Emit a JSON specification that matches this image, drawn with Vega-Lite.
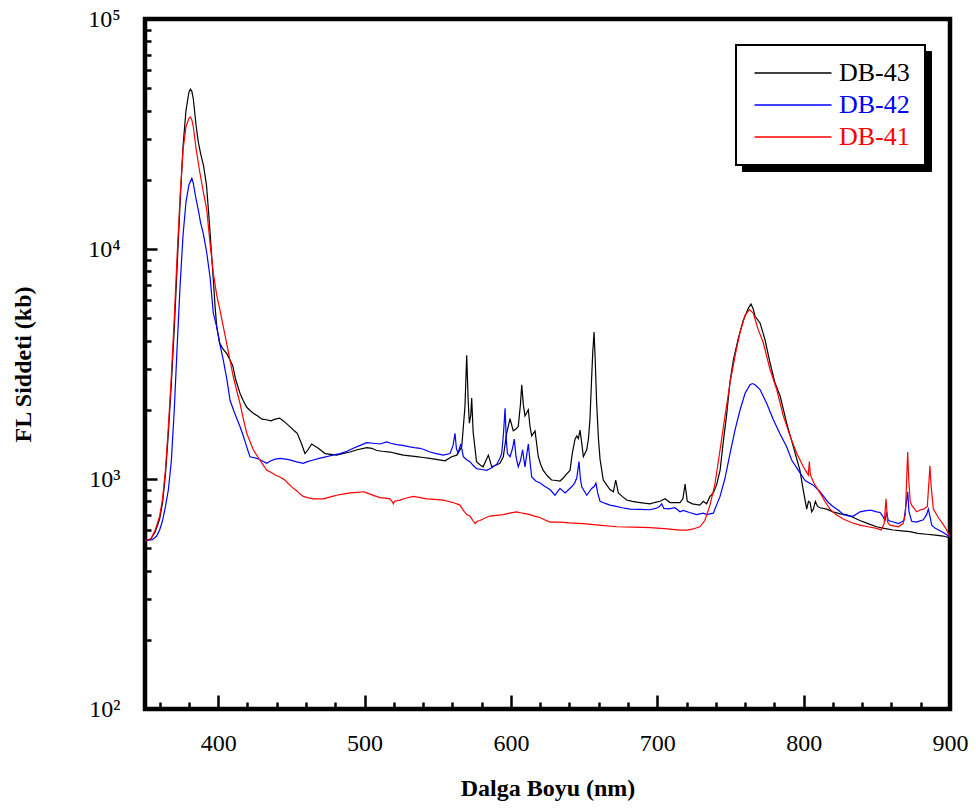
{
  "$schema": "https://vega.github.io/schema/vega-lite/v6.json",
  "width": 805,
  "height": 690,
  "autosize": "none",
  "padding": {"left": 145, "top": 19, "right": 26, "bottom": 102},
  "background": "white",
  "config": {
    "view": {"stroke": "black", "strokeWidth": 4.5},
    "font": "Liberation Serif",
    "axis": {"grid": false, "domain": false, "tickColor": "black", "tickWidth": 2.5, "labelFont": "Liberation Serif", "labelFontSize": 24, "labelColor": "black", "titleFont": "Liberation Serif", "titleFontSize": 24, "titleFontWeight": "bold", "titleColor": "black", "labelOverlap": false, "labelFlush": false}
  },
  "datasets": {
    "leg": [{"name": "DB-43"}, {"name": "DB-42"}, {"name": "DB-41"}],
    "spec": [
      {"series":"DB-43","nm":350,"value":540},{"series":"DB-43","nm":354,"value":548},{"series":"DB-43","nm":357,"value":590},{"series":"DB-43","nm":360,"value":670},{"series":"DB-43","nm":362,"value":790},{"series":"DB-43","nm":364,"value":1050},{"series":"DB-43","nm":366,"value":1600},{"series":"DB-43","nm":368,"value":2600},{"series":"DB-43","nm":370,"value":4500},{"series":"DB-43","nm":372,"value":8500},{"series":"DB-43","nm":374,"value":16000},{"series":"DB-43","nm":376,"value":28000},{"series":"DB-43","nm":378,"value":40000},{"series":"DB-43","nm":380,"value":48000},{"series":"DB-43","nm":381,"value":49500},{"series":"DB-43","nm":382,"value":48500},{"series":"DB-43","nm":383,"value":45000},{"series":"DB-43","nm":385,"value":34000},{"series":"DB-43","nm":386.5,"value":29000},{"series":"DB-43","nm":388,"value":26000},{"series":"DB-43","nm":390,"value":23000},{"series":"DB-43","nm":392,"value":19000},{"series":"DB-43","nm":394,"value":13000},{"series":"DB-43","nm":396,"value":8500},{"series":"DB-43","nm":398,"value":5500},{"series":"DB-43","nm":399,"value":4600},{"series":"DB-43","nm":401,"value":3900},{"series":"DB-43","nm":403,"value":3700},{"series":"DB-43","nm":406,"value":3500},{"series":"DB-43","nm":408,"value":3300},{"series":"DB-43","nm":410,"value":3100},{"series":"DB-43","nm":412,"value":2700},{"series":"DB-43","nm":415,"value":2350},{"series":"DB-43","nm":417,"value":2200},{"series":"DB-43","nm":419.5,"value":2050},{"series":"DB-43","nm":422,"value":1980},{"series":"DB-43","nm":424,"value":1930},{"series":"DB-43","nm":427,"value":1880},{"series":"DB-43","nm":430,"value":1820},{"series":"DB-43","nm":433,"value":1810},{"series":"DB-43","nm":436,"value":1790},{"series":"DB-43","nm":439,"value":1820},{"series":"DB-43","nm":442,"value":1840},{"series":"DB-43","nm":445,"value":1780},{"series":"DB-43","nm":449,"value":1690},{"series":"DB-43","nm":452,"value":1620},{"series":"DB-43","nm":454,"value":1580},{"series":"DB-43","nm":457,"value":1420},{"series":"DB-43","nm":459.3,"value":1290},{"series":"DB-43","nm":461,"value":1330},{"series":"DB-43","nm":463.9,"value":1420},{"series":"DB-43","nm":466,"value":1390},{"series":"DB-43","nm":468.4,"value":1360},{"series":"DB-43","nm":471,"value":1320},{"series":"DB-43","nm":473,"value":1290},{"series":"DB-43","nm":477,"value":1280},{"series":"DB-43","nm":481,"value":1270},{"series":"DB-43","nm":485,"value":1290},{"series":"DB-43","nm":490,"value":1310},{"series":"DB-43","nm":495,"value":1340},{"series":"DB-43","nm":501.5,"value":1370},{"series":"DB-43","nm":505,"value":1360},{"series":"DB-43","nm":508.3,"value":1330},{"series":"DB-43","nm":512,"value":1320},{"series":"DB-43","nm":517.4,"value":1310},{"series":"DB-43","nm":522,"value":1290},{"series":"DB-43","nm":526.5,"value":1270},{"series":"DB-43","nm":531,"value":1260},{"series":"DB-43","nm":535.6,"value":1250},{"series":"DB-43","nm":540,"value":1240},{"series":"DB-43","nm":544.7,"value":1230},{"series":"DB-43","nm":550,"value":1215},{"series":"DB-43","nm":555,"value":1200},{"series":"DB-43","nm":559.5,"value":1250},{"series":"DB-43","nm":563,"value":1270},{"series":"DB-43","nm":566.4,"value":1380},{"series":"DB-43","nm":568.6,"value":2060},{"series":"DB-43","nm":569.8,"value":3450},{"series":"DB-43","nm":570.8,"value":2200},{"series":"DB-43","nm":571.6,"value":1750},{"series":"DB-43","nm":572.6,"value":1900},{"series":"DB-43","nm":573.2,"value":2250},{"series":"DB-43","nm":574.2,"value":1600},{"series":"DB-43","nm":576.5,"value":1190},{"series":"DB-43","nm":579,"value":1150},{"series":"DB-43","nm":581,"value":1130},{"series":"DB-43","nm":584.6,"value":1270},{"series":"DB-43","nm":586.9,"value":1130},{"series":"DB-43","nm":590,"value":1150},{"series":"DB-43","nm":592.5,"value":1170},{"series":"DB-43","nm":594.8,"value":1250},{"series":"DB-43","nm":597.1,"value":1580},{"series":"DB-43","nm":599.4,"value":1830},{"series":"DB-43","nm":601.6,"value":1620},{"series":"DB-43","nm":603.5,"value":1650},{"series":"DB-43","nm":605,"value":1690},{"series":"DB-43","nm":606.5,"value":2100},{"series":"DB-43","nm":607.4,"value":2570},{"series":"DB-43","nm":608.5,"value":2100},{"series":"DB-43","nm":609.6,"value":1880},{"series":"DB-43","nm":611.9,"value":2000},{"series":"DB-43","nm":613,"value":1700},{"series":"DB-43","nm":614.2,"value":1540},{"series":"DB-43","nm":616.5,"value":1620},{"series":"DB-43","nm":618.7,"value":1250},{"series":"DB-43","nm":620.5,"value":1150},{"series":"DB-43","nm":622.1,"value":1090},{"series":"DB-43","nm":625,"value":1030},{"series":"DB-43","nm":627.8,"value":990},{"series":"DB-43","nm":631,"value":985},{"series":"DB-43","nm":633.5,"value":980},{"series":"DB-43","nm":635.8,"value":1010},{"series":"DB-43","nm":638,"value":1050},{"series":"DB-43","nm":640.4,"value":1090},{"series":"DB-43","nm":642,"value":1300},{"series":"DB-43","nm":643.8,"value":1490},{"series":"DB-43","nm":645,"value":1540},{"series":"DB-43","nm":646.1,"value":1500},{"series":"DB-43","nm":647.2,"value":1630},{"series":"DB-43","nm":648.3,"value":1450},{"series":"DB-43","nm":649.5,"value":1250},{"series":"DB-43","nm":651.8,"value":1340},{"series":"DB-43","nm":653,"value":1500},{"series":"DB-43","nm":654,"value":1810},{"series":"DB-43","nm":655,"value":2600},{"series":"DB-43","nm":655.9,"value":3540},{"series":"DB-43","nm":656.8,"value":4360},{"series":"DB-43","nm":657.6,"value":3300},{"series":"DB-43","nm":658.6,"value":2130},{"series":"DB-43","nm":659.8,"value":1500},{"series":"DB-43","nm":660.9,"value":1220},{"series":"DB-43","nm":663.1,"value":990},{"series":"DB-43","nm":665.5,"value":940},{"series":"DB-43","nm":667.7,"value":900},{"series":"DB-43","nm":670,"value":880},{"series":"DB-43","nm":671.6,"value":990},{"series":"DB-43","nm":673.4,"value":870},{"series":"DB-43","nm":676,"value":840},{"series":"DB-43","nm":679.1,"value":810},{"series":"DB-43","nm":683,"value":800},{"series":"DB-43","nm":688.2,"value":790},{"series":"DB-43","nm":691,"value":785},{"series":"DB-43","nm":695,"value":780},{"series":"DB-43","nm":698,"value":790},{"series":"DB-43","nm":701.9,"value":800},{"series":"DB-43","nm":705.3,"value":820},{"series":"DB-43","nm":708.7,"value":790},{"series":"DB-43","nm":712,"value":790},{"series":"DB-43","nm":715.5,"value":790},{"series":"DB-43","nm":717.5,"value":820},{"series":"DB-43","nm":719,"value":950},{"series":"DB-43","nm":720.5,"value":800},{"series":"DB-43","nm":724,"value":780},{"series":"DB-43","nm":729.1,"value":770},{"series":"DB-43","nm":731.4,"value":800},{"series":"DB-43","nm":733.7,"value":780},{"series":"DB-43","nm":736,"value":840},{"series":"DB-43","nm":738.3,"value":870},{"series":"DB-43","nm":740.5,"value":940},{"series":"DB-43","nm":742.9,"value":1090},{"series":"DB-43","nm":745.1,"value":1450},{"series":"DB-43","nm":747.4,"value":1900},{"series":"DB-43","nm":749.7,"value":2650},{"series":"DB-43","nm":752,"value":3300},{"series":"DB-43","nm":755.4,"value":4100},{"series":"DB-43","nm":758.8,"value":4900},{"series":"DB-43","nm":762.2,"value":5520},{"series":"DB-43","nm":764,"value":5770},{"series":"DB-43","nm":765.5,"value":5500},{"series":"DB-43","nm":766.8,"value":5100},{"series":"DB-43","nm":770.2,"value":4770},{"series":"DB-43","nm":773.6,"value":4040},{"series":"DB-43","nm":777,"value":3210},{"series":"DB-43","nm":780.4,"value":2620},{"series":"DB-43","nm":783.9,"value":2300},{"series":"DB-43","nm":788.4,"value":1750},{"series":"DB-43","nm":793,"value":1380},{"series":"DB-43","nm":797.5,"value":1090},{"series":"DB-43","nm":799.8,"value":890},{"series":"DB-43","nm":802.1,"value":740},{"series":"DB-43","nm":803.3,"value":800},{"series":"DB-43","nm":804.4,"value":790},{"series":"DB-43","nm":805.5,"value":720},{"series":"DB-43","nm":806.7,"value":740},{"series":"DB-43","nm":808,"value":800},{"series":"DB-43","nm":809.5,"value":760},{"series":"DB-43","nm":811.2,"value":750},{"series":"DB-43","nm":815.8,"value":740},{"series":"DB-43","nm":820,"value":720},{"series":"DB-43","nm":825,"value":705},{"series":"DB-43","nm":829.2,"value":700},{"series":"DB-43","nm":834,"value":680},{"series":"DB-43","nm":838.4,"value":660},{"series":"DB-43","nm":844,"value":640},{"series":"DB-43","nm":849.9,"value":620},{"series":"DB-43","nm":855,"value":610},{"series":"DB-43","nm":861.3,"value":600},{"series":"DB-43","nm":867,"value":595},{"series":"DB-43","nm":872.6,"value":590},{"series":"DB-43","nm":878,"value":580},{"series":"DB-43","nm":884,"value":575},{"series":"DB-43","nm":890,"value":570},{"series":"DB-43","nm":895.4,"value":565},{"series":"DB-43","nm":900,"value":555},
      {"series":"DB-42","nm":350,"value":540},{"series":"DB-42","nm":355,"value":545},{"series":"DB-42","nm":358,"value":565},{"series":"DB-42","nm":360,"value":600},{"series":"DB-42","nm":362,"value":660},{"series":"DB-42","nm":364,"value":760},{"series":"DB-42","nm":366,"value":900},{"series":"DB-42","nm":368,"value":1200},{"series":"DB-42","nm":370,"value":2000},{"series":"DB-42","nm":372,"value":3800},{"series":"DB-42","nm":374,"value":7000},{"series":"DB-42","nm":376,"value":11500},{"series":"DB-42","nm":378,"value":16000},{"series":"DB-42","nm":380,"value":19000},{"series":"DB-42","nm":382,"value":20300},{"series":"DB-42","nm":383,"value":19300},{"series":"DB-42","nm":384.5,"value":17000},{"series":"DB-42","nm":386.4,"value":14800},{"series":"DB-42","nm":388,"value":13000},{"series":"DB-42","nm":389.8,"value":11700},{"series":"DB-42","nm":392,"value":9800},{"series":"DB-42","nm":394.4,"value":7590},{"series":"DB-42","nm":396.7,"value":5250},{"series":"DB-42","nm":399,"value":4590},{"series":"DB-42","nm":401,"value":3900},{"series":"DB-42","nm":403.5,"value":3290},{"series":"DB-42","nm":406,"value":2700},{"series":"DB-42","nm":408.1,"value":2200},{"series":"DB-42","nm":411,"value":1950},{"series":"DB-42","nm":414.9,"value":1690},{"series":"DB-42","nm":417,"value":1550},{"series":"DB-42","nm":419.5,"value":1380},{"series":"DB-42","nm":421.7,"value":1250},{"series":"DB-42","nm":424,"value":1240},{"series":"DB-42","nm":426.3,"value":1230},{"series":"DB-42","nm":430,"value":1200},{"series":"DB-42","nm":433.2,"value":1170},{"series":"DB-42","nm":436,"value":1200},{"series":"DB-42","nm":439,"value":1220},{"series":"DB-42","nm":442.2,"value":1230},{"series":"DB-42","nm":446,"value":1220},{"series":"DB-42","nm":449,"value":1210},{"series":"DB-42","nm":453,"value":1190},{"series":"DB-42","nm":458.1,"value":1170},{"series":"DB-42","nm":461,"value":1190},{"series":"DB-42","nm":465,"value":1210},{"series":"DB-42","nm":469,"value":1230},{"series":"DB-42","nm":474.1,"value":1250},{"series":"DB-42","nm":478,"value":1270},{"series":"DB-42","nm":483.2,"value":1290},{"series":"DB-42","nm":488,"value":1320},{"series":"DB-42","nm":492.3,"value":1360},{"series":"DB-42","nm":497,"value":1400},{"series":"DB-42","nm":501.5,"value":1440},{"series":"DB-42","nm":506,"value":1430},{"series":"DB-42","nm":510.6,"value":1420},{"series":"DB-42","nm":515.1,"value":1450},{"series":"DB-42","nm":518,"value":1430},{"series":"DB-42","nm":522,"value":1410},{"series":"DB-42","nm":526,"value":1400},{"series":"DB-42","nm":531,"value":1380},{"series":"DB-42","nm":534,"value":1370},{"series":"DB-42","nm":537.9,"value":1360},{"series":"DB-42","nm":541,"value":1340},{"series":"DB-42","nm":544.7,"value":1310},{"series":"DB-42","nm":549,"value":1290},{"series":"DB-42","nm":553.8,"value":1270},{"series":"DB-42","nm":558.4,"value":1290},{"series":"DB-42","nm":560.5,"value":1400},{"series":"DB-42","nm":561.8,"value":1580},{"series":"DB-42","nm":562.8,"value":1350},{"series":"DB-42","nm":564,"value":1300},{"series":"DB-42","nm":565.7,"value":1420},{"series":"DB-42","nm":566.5,"value":1350},{"series":"DB-42","nm":567.5,"value":1250},{"series":"DB-42","nm":570,"value":1210},{"series":"DB-42","nm":572,"value":1190},{"series":"DB-42","nm":574,"value":1150},{"series":"DB-42","nm":576.6,"value":1110},{"series":"DB-42","nm":580,"value":1100},{"series":"DB-42","nm":583.5,"value":1090},{"series":"DB-42","nm":587,"value":1120},{"series":"DB-42","nm":590.3,"value":1160},{"series":"DB-42","nm":592.5,"value":1230},{"series":"DB-42","nm":593.7,"value":1290},{"series":"DB-42","nm":595,"value":1600},{"series":"DB-42","nm":596,"value":2030},{"series":"DB-42","nm":596.8,"value":1500},{"series":"DB-42","nm":597.6,"value":1290},{"series":"DB-42","nm":599.4,"value":1250},{"series":"DB-42","nm":601,"value":1350},{"series":"DB-42","nm":602.3,"value":1490},{"series":"DB-42","nm":603.5,"value":1250},{"series":"DB-42","nm":605,"value":1130},{"series":"DB-42","nm":606.5,"value":1200},{"series":"DB-42","nm":608,"value":1340},{"series":"DB-42","nm":609,"value":1200},{"series":"DB-42","nm":609.6,"value":1130},{"series":"DB-42","nm":611,"value":1300},{"series":"DB-42","nm":611.9,"value":1420},{"series":"DB-42","nm":613,"value":1200},{"series":"DB-42","nm":614.2,"value":1020},{"series":"DB-42","nm":617,"value":980},{"series":"DB-42","nm":619.9,"value":960},{"series":"DB-42","nm":623,"value":930},{"series":"DB-42","nm":626.7,"value":900},{"series":"DB-42","nm":630.1,"value":850},{"series":"DB-42","nm":633.5,"value":910},{"series":"DB-42","nm":637,"value":870},{"series":"DB-42","nm":641.5,"value":925},{"series":"DB-42","nm":643.5,"value":960},{"series":"DB-42","nm":645,"value":1010},{"series":"DB-42","nm":646.5,"value":1190},{"series":"DB-42","nm":647.5,"value":1000},{"series":"DB-42","nm":648.4,"value":925},{"series":"DB-42","nm":651.8,"value":850},{"series":"DB-42","nm":655.2,"value":910},{"series":"DB-42","nm":657,"value":930},{"series":"DB-42","nm":658.1,"value":960},{"series":"DB-42","nm":659.3,"value":870},{"series":"DB-42","nm":660.9,"value":800},{"series":"DB-42","nm":664,"value":785},{"series":"DB-42","nm":667.7,"value":770},{"series":"DB-42","nm":672,"value":760},{"series":"DB-42","nm":676,"value":750},{"series":"DB-42","nm":681.4,"value":740},{"series":"DB-42","nm":688,"value":738},{"series":"DB-42","nm":695,"value":735},{"series":"DB-42","nm":699,"value":745},{"series":"DB-42","nm":701.5,"value":760},{"series":"DB-42","nm":703,"value":780},{"series":"DB-42","nm":704.5,"value":745},{"series":"DB-42","nm":708,"value":742},{"series":"DB-42","nm":712.1,"value":750},{"series":"DB-42","nm":715.5,"value":720},{"series":"DB-42","nm":717.8,"value":730},{"series":"DB-42","nm":722,"value":715},{"series":"DB-42","nm":726.9,"value":700},{"series":"DB-42","nm":731.4,"value":710},{"series":"DB-42","nm":733.8,"value":700},{"series":"DB-42","nm":736,"value":705},{"series":"DB-42","nm":738.3,"value":710},{"series":"DB-42","nm":740.5,"value":770},{"series":"DB-42","nm":742.9,"value":840},{"series":"DB-42","nm":746.3,"value":1010},{"series":"DB-42","nm":749.7,"value":1290},{"series":"DB-42","nm":753.1,"value":1630},{"series":"DB-42","nm":756.5,"value":1990},{"series":"DB-42","nm":760,"value":2360},{"series":"DB-42","nm":763.4,"value":2570},{"series":"DB-42","nm":765,"value":2600},{"series":"DB-42","nm":766.8,"value":2570},{"series":"DB-42","nm":770.2,"value":2450},{"series":"DB-42","nm":774.8,"value":2130},{"series":"DB-42","nm":779.3,"value":1810},{"series":"DB-42","nm":783.9,"value":1570},{"series":"DB-42","nm":788.4,"value":1380},{"series":"DB-42","nm":791.8,"value":1210},{"series":"DB-42","nm":796.4,"value":1090},{"series":"DB-42","nm":801,"value":985},{"series":"DB-42","nm":806.6,"value":940},{"series":"DB-42","nm":811.2,"value":880},{"series":"DB-42","nm":816.9,"value":790},{"series":"DB-42","nm":820,"value":760},{"series":"DB-42","nm":824,"value":730},{"series":"DB-42","nm":827.1,"value":700},{"series":"DB-42","nm":831.7,"value":690},{"series":"DB-42","nm":834,"value":690},{"series":"DB-42","nm":838.5,"value":720},{"series":"DB-42","nm":841,"value":725},{"series":"DB-42","nm":844.2,"value":730},{"series":"DB-42","nm":846.5,"value":730},{"series":"DB-42","nm":849.9,"value":720},{"series":"DB-42","nm":852.2,"value":715},{"series":"DB-42","nm":854,"value":690},{"series":"DB-42","nm":855.6,"value":660},{"series":"DB-42","nm":856.7,"value":720},{"series":"DB-42","nm":857.8,"value":660},{"series":"DB-42","nm":861.3,"value":650},{"series":"DB-42","nm":865,"value":640},{"series":"DB-42","nm":868.5,"value":660},{"series":"DB-42","nm":870.3,"value":800},{"series":"DB-42","nm":871.1,"value":880},{"series":"DB-42","nm":872,"value":720},{"series":"DB-42","nm":873.8,"value":655},{"series":"DB-42","nm":877,"value":650},{"series":"DB-42","nm":881.8,"value":665},{"series":"DB-42","nm":884,"value":700},{"series":"DB-42","nm":885.2,"value":740},{"series":"DB-42","nm":886.5,"value":680},{"series":"DB-42","nm":887.5,"value":630},{"series":"DB-42","nm":890,"value":610},{"series":"DB-42","nm":895.4,"value":585},{"series":"DB-42","nm":900,"value":560},
      {"series":"DB-41","nm":350,"value":540},{"series":"DB-41","nm":354,"value":550},{"series":"DB-41","nm":357,"value":600},{"series":"DB-41","nm":360,"value":690},{"series":"DB-41","nm":362,"value":820},{"series":"DB-41","nm":364,"value":1100},{"series":"DB-41","nm":366,"value":1700},{"series":"DB-41","nm":368,"value":2800},{"series":"DB-41","nm":370,"value":5000},{"series":"DB-41","nm":372,"value":9500},{"series":"DB-41","nm":374,"value":17000},{"series":"DB-41","nm":376,"value":27000},{"series":"DB-41","nm":378,"value":34000},{"series":"DB-41","nm":380,"value":37000},{"series":"DB-41","nm":381,"value":37500},{"series":"DB-41","nm":382,"value":36500},{"series":"DB-41","nm":383,"value":34000},{"series":"DB-41","nm":385,"value":27000},{"series":"DB-41","nm":387.6,"value":21300},{"series":"DB-41","nm":390,"value":17500},{"series":"DB-41","nm":392.2,"value":14800},{"series":"DB-41","nm":394.5,"value":10500},{"series":"DB-41","nm":396.7,"value":7830},{"series":"DB-41","nm":399,"value":6300},{"series":"DB-41","nm":401.2,"value":5430},{"series":"DB-41","nm":403.5,"value":4600},{"series":"DB-41","nm":405.8,"value":3890},{"series":"DB-41","nm":408,"value":3300},{"series":"DB-41","nm":410.3,"value":2790},{"series":"DB-41","nm":412.5,"value":2450},{"series":"DB-41","nm":414.9,"value":2130},{"series":"DB-41","nm":417,"value":1850},{"series":"DB-41","nm":419.5,"value":1580},{"series":"DB-41","nm":422,"value":1440},{"series":"DB-41","nm":424,"value":1340},{"series":"DB-41","nm":427,"value":1250},{"series":"DB-41","nm":430,"value":1170},{"series":"DB-41","nm":433.2,"value":1090},{"series":"DB-41","nm":436,"value":1070},{"series":"DB-41","nm":439,"value":1040},{"series":"DB-41","nm":442.2,"value":1020},{"series":"DB-41","nm":445.5,"value":990},{"series":"DB-41","nm":449,"value":940},{"series":"DB-41","nm":451,"value":915},{"series":"DB-41","nm":453.6,"value":890},{"series":"DB-41","nm":456,"value":860},{"series":"DB-41","nm":458.1,"value":840},{"series":"DB-41","nm":461,"value":830},{"series":"DB-41","nm":465,"value":820},{"series":"DB-41","nm":468,"value":820},{"series":"DB-41","nm":471.8,"value":820},{"series":"DB-41","nm":475,"value":830},{"series":"DB-41","nm":478,"value":840},{"series":"DB-41","nm":481,"value":850},{"series":"DB-41","nm":485,"value":860},{"series":"DB-41","nm":490,"value":870},{"series":"DB-41","nm":495,"value":875},{"series":"DB-41","nm":499.2,"value":880},{"series":"DB-41","nm":501.5,"value":870},{"series":"DB-41","nm":503.7,"value":860},{"series":"DB-41","nm":507,"value":845},{"series":"DB-41","nm":510.6,"value":830},{"series":"DB-41","nm":514,"value":825},{"series":"DB-41","nm":517.4,"value":820},{"series":"DB-41","nm":518.8,"value":800},{"series":"DB-41","nm":519.7,"value":780},{"series":"DB-41","nm":520.5,"value":800},{"series":"DB-41","nm":524.2,"value":810},{"series":"DB-41","nm":528,"value":825},{"series":"DB-41","nm":533.3,"value":840},{"series":"DB-41","nm":538,"value":830},{"series":"DB-41","nm":542.5,"value":820},{"series":"DB-41","nm":548,"value":815},{"series":"DB-41","nm":553.8,"value":810},{"series":"DB-41","nm":557,"value":800},{"series":"DB-41","nm":560.6,"value":790},{"series":"DB-41","nm":565.2,"value":770},{"series":"DB-41","nm":567.5,"value":730},{"series":"DB-41","nm":569.8,"value":700},{"series":"DB-41","nm":572,"value":690},{"series":"DB-41","nm":574,"value":660},{"series":"DB-41","nm":575.5,"value":640},{"series":"DB-41","nm":577,"value":655},{"series":"DB-41","nm":578.9,"value":660},{"series":"DB-41","nm":582,"value":675},{"series":"DB-41","nm":585.7,"value":690},{"series":"DB-41","nm":590,"value":695},{"series":"DB-41","nm":594.8,"value":700},{"series":"DB-41","nm":599,"value":710},{"series":"DB-41","nm":603.9,"value":720},{"series":"DB-41","nm":608,"value":710},{"series":"DB-41","nm":613,"value":700},{"series":"DB-41","nm":616,"value":690},{"series":"DB-41","nm":619.9,"value":680},{"series":"DB-41","nm":623,"value":665},{"series":"DB-41","nm":626.7,"value":650},{"series":"DB-41","nm":630,"value":650},{"series":"DB-41","nm":633.5,"value":650},{"series":"DB-41","nm":640,"value":645},{"series":"DB-41","nm":649.5,"value":640},{"series":"DB-41","nm":660,"value":630},{"series":"DB-41","nm":672.3,"value":620},{"series":"DB-41","nm":684,"value":618},{"series":"DB-41","nm":695,"value":615},{"series":"DB-41","nm":705,"value":608},{"series":"DB-41","nm":715.5,"value":600},{"series":"DB-41","nm":720.1,"value":600},{"series":"DB-41","nm":724,"value":605},{"series":"DB-41","nm":729.1,"value":620},{"series":"DB-41","nm":732.5,"value":660},{"series":"DB-41","nm":736,"value":770},{"series":"DB-41","nm":739.4,"value":950},{"series":"DB-41","nm":742.9,"value":1340},{"series":"DB-41","nm":746.3,"value":1880},{"series":"DB-41","nm":749.7,"value":2610},{"series":"DB-41","nm":753.1,"value":3420},{"series":"DB-41","nm":756.5,"value":4330},{"series":"DB-41","nm":760,"value":5150},{"series":"DB-41","nm":762.9,"value":5450},{"series":"DB-41","nm":765.6,"value":5260},{"series":"DB-41","nm":767,"value":4900},{"series":"DB-41","nm":769,"value":4460},{"series":"DB-41","nm":772.5,"value":3900},{"series":"DB-41","nm":777,"value":3000},{"series":"DB-41","nm":781.6,"value":2450},{"series":"DB-41","nm":786.1,"value":1880},{"series":"DB-41","nm":790.7,"value":1540},{"series":"DB-41","nm":795.3,"value":1290},{"series":"DB-41","nm":799.8,"value":1130},{"series":"DB-41","nm":803.2,"value":1040},{"series":"DB-41","nm":803.9,"value":1190},{"series":"DB-41","nm":804.6,"value":1040},{"series":"DB-41","nm":807,"value":960},{"series":"DB-41","nm":811.2,"value":870},{"series":"DB-41","nm":814.5,"value":800},{"series":"DB-41","nm":818,"value":740},{"series":"DB-41","nm":822,"value":700},{"series":"DB-41","nm":827.1,"value":670},{"series":"DB-41","nm":833,"value":645},{"series":"DB-41","nm":838.5,"value":630},{"series":"DB-41","nm":844,"value":620},{"series":"DB-41","nm":849.9,"value":610},{"series":"DB-41","nm":853,"value":600},{"series":"DB-41","nm":855,"value":640},{"series":"DB-41","nm":856.3,"value":820},{"series":"DB-41","nm":857.3,"value":650},{"series":"DB-41","nm":859,"value":630},{"series":"DB-41","nm":864.7,"value":620},{"series":"DB-41","nm":868,"value":640},{"series":"DB-41","nm":869.5,"value":700},{"series":"DB-41","nm":870.4,"value":1000},{"series":"DB-41","nm":871.1,"value":1310},{"series":"DB-41","nm":871.8,"value":1000},{"series":"DB-41","nm":872.8,"value":800},{"series":"DB-41","nm":873.8,"value":770},{"series":"DB-41","nm":877.2,"value":720},{"series":"DB-41","nm":880,"value":735},{"series":"DB-41","nm":882,"value":740},{"series":"DB-41","nm":884.5,"value":760},{"series":"DB-41","nm":885.5,"value":950},{"series":"DB-41","nm":886.3,"value":1140},{"series":"DB-41","nm":887,"value":950},{"series":"DB-41","nm":888.6,"value":740},{"series":"DB-41","nm":892,"value":680},{"series":"DB-41","nm":895,"value":640},{"series":"DB-41","nm":897.8,"value":600},{"series":"DB-41","nm":900,"value":560}
    ]
  },
  "layer": [
    {
      "data": {"name": "leg"},
      "mark": {"type": "point", "opacity": 0},
      "encoding": {
        "shape": {
          "field": "name", "type": "nominal",
          "scale": {"range": ["M-3.85,0H3.85", "M-3.85,0H3.85", "M-3.85,0H3.85"]},
          "legend": {"title": null, "orient": "none", "legendX": 597, "legendY": 32, "fillColor": "black", "strokeColor": "black", "padding": 15, "cornerRadius": 0, "symbolSize": 400, "symbolOffset": 29, "symbolOpacity": 0, "symbolStrokeWidth": 1.3, "labelFont": "Liberation Serif", "labelFontSize": 26, "labelOffset": 104, "rowPadding": 6, "labelExpr": "''", "labelLimit": 300, "zindex": 1}
        }
      }
    },
    {
      "data": {"name": "spec"},
      "mark": {"type": "line", "strokeWidth": 1.2, "clip": true},
      "encoding": {
        "x": {"field": "nm", "type": "quantitative",
          "scale": {"domain": [350, 900], "nice": false, "zero": false},
          "axis": {"title": "Dalga Boyu (nm)", "values": [360,380,400,420,440,460,480,500,520,540,560,580,600,620,640,660,680,700,720,740,760,780,800,820,840,860,880,900],
            "labelExpr": "datum.value % 100 === 0 ? datum.label : ''",
            "tickSize": {"condition": {"test": "datum.value % 100 === 0", "value": -14}, "value": -7},
            "labelPadding": 36, "titlePadding": 14}},
        "y": {"field": "value", "type": "quantitative",
          "scale": {"type": "log", "domain": [100, 100000], "nice": false},
          "axis": {"title": "FL Siddeti (kb)", "values": [100,200,300,400,500,600,700,800,900,1000,2000,3000,4000,5000,6000,7000,8000,9000,10000,20000,30000,40000,50000,60000,70000,80000,90000,100000],
            "labelExpr": "datum.value == 100 ? '10²' : datum.value == 1000 ? '10³' : datum.value == 10000 ? '10⁴' : datum.value == 100000 ? '10⁵' : ''",
            "tickSize": {"condition": {"test": "datum.value == 100 || datum.value == 1000 || datum.value == 10000 || datum.value == 100000", "value": -12}, "value": -6},
            "labelPadding": 37, "titlePadding": 52}},
        "color": {"field": "series", "type": "nominal",
          "scale": {"domain": ["DB-43", "DB-42", "DB-41"], "range": ["#000000", "#0000ff", "#ff0000"]},
          "legend": {"title": null, "orient": "none", "legendX": 591, "legendY": 26, "fillColor": "white", "strokeColor": "black", "padding": 15, "cornerRadius": 0, "symbolType": "M-3.85,0H3.85", "symbolSize": 400, "symbolOffset": 29, "symbolStrokeWidth": 1.3, "labelFont": "Liberation Serif", "labelFontSize": 26, "labelOffset": 33, "rowPadding": 6, "labelLimit": 300, "zindex": 2,
            "encode": {"labels": {"update": {"fill": {"scale": "color", "field": "value"}}}, "legend": {"update": {"strokeWidth": {"value": 2}}}}}
        }
      }
    }
  ]
}
